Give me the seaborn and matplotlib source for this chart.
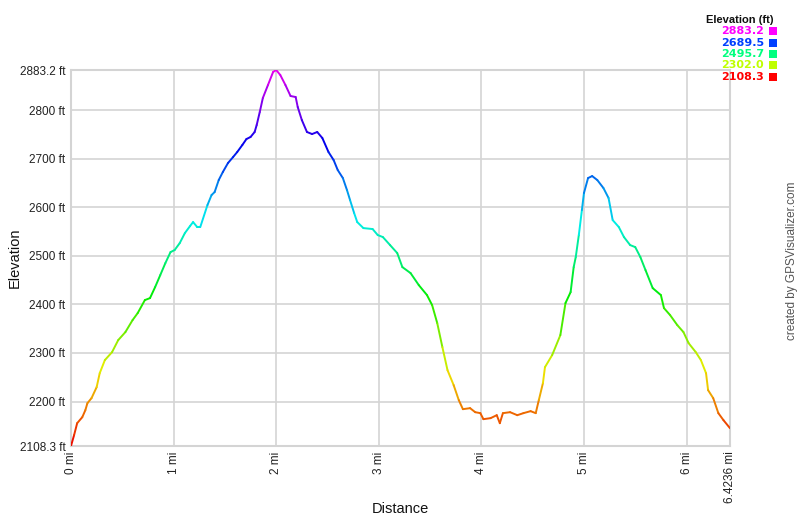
import numpy as np
import pandas as pd
import seaborn as sns
import matplotlib
matplotlib.use("Agg")
import matplotlib.pyplot as plt
from matplotlib.collections import LineCollection
from matplotlib.colors import hsv_to_rgb
from matplotlib.patches import Rectangle

# ===============================
# Datos leidos del perfil
# ===============================
distancia_mi = [
    0.00, 0.03, 0.06, 0.11, 0.14, 0.16, 0.20, 0.25, 0.28, 0.33,
    0.40, 0.46, 0.53, 0.60, 0.65, 0.72, 0.77, 0.82, 0.87, 0.92,
    0.97, 1.01, 1.06, 1.11, 1.16, 1.19, 1.23, 1.26, 1.33, 1.37,
    1.40, 1.44, 1.48, 1.53, 1.58, 1.62, 1.67, 1.71, 1.75, 1.79,
    1.81, 1.84, 1.87, 1.92, 1.97, 2.00, 2.04, 2.09, 2.14, 2.19,
    2.21, 2.25, 2.30, 2.35, 2.40, 2.45, 2.51, 2.56, 2.60, 2.65,
    2.69, 2.72, 2.76, 2.79, 2.85, 2.94, 2.99, 3.04, 3.11, 3.18,
    3.23, 3.31, 3.39, 3.47, 3.52, 3.57, 3.62, 3.67, 3.73, 3.78,
    3.82, 3.89, 3.94, 3.99, 4.02, 4.09, 4.15, 4.18, 4.21, 4.28,
    4.35, 4.41, 4.48, 4.53, 4.56, 4.60, 4.62, 4.69, 4.77, 4.82,
    4.87, 4.90, 4.92, 4.95, 4.98, 5.00, 5.04, 5.08, 5.13, 5.19,
    5.24, 5.28, 5.34, 5.39, 5.45, 5.50, 5.55, 5.60, 5.67, 5.75,
    5.78, 5.84, 5.91, 5.97, 6.02, 6.09, 6.14, 6.19, 6.21, 6.26,
    6.31, 6.36, 6.4236,
]
elevacion_ft = [
    2108.3, 2130.6, 2155.3, 2167.7, 2182.2, 2196.6, 2206.9, 2229.6, 2258.4, 2285.3,
    2301.7, 2326.5, 2343.0, 2367.7, 2382.2, 2409.0, 2413.1, 2435.8, 2460.5, 2485.3,
    2507.9, 2512.1, 2526.5, 2547.1, 2561.5, 2569.8, 2559.5, 2559.5, 2604.8, 2625.5,
    2631.6, 2656.4, 2672.9, 2691.4, 2703.8, 2714.1, 2728.6, 2740.9, 2745.1, 2755.4,
    2769.8, 2796.6, 2825.5, 2852.3, 2879.1, 2883.2, 2872.9, 2852.3, 2829.6, 2827.5,
    2806.9, 2780.1, 2755.4, 2751.2, 2755.4, 2743.0, 2714.1, 2697.6, 2677.0, 2660.5,
    2635.8, 2615.2, 2588.3, 2569.8, 2557.4, 2555.4, 2543.0, 2538.9, 2522.4, 2505.9,
    2477.0, 2464.6, 2439.9, 2419.3, 2398.7, 2361.5, 2312.1, 2264.6, 2233.7, 2202.8,
    2184.2, 2186.3, 2178.0, 2176.0, 2163.6, 2165.7, 2171.8, 2155.3, 2176.0, 2178.0,
    2171.8, 2176.0, 2180.1, 2176.0, 2202.8, 2237.8, 2270.8, 2295.6, 2336.8, 2402.8,
    2425.5, 2477.0, 2497.6, 2543.0, 2594.5, 2629.6, 2660.5, 2664.6, 2656.4, 2639.9,
    2619.3, 2573.9, 2559.5, 2538.9, 2522.4, 2518.2, 2497.6, 2470.8, 2433.7, 2419.3,
    2392.5, 2378.0, 2357.4, 2343.0, 2320.3, 2301.7, 2285.3, 2258.4, 2223.4, 2206.9,
    2176.0, 2161.5, 2145.0,
]

ticks_y = [2108.3, 2200, 2300, 2400, 2500, 2600, 2700, 2800, 2883.2]
ticks_x = [0, 1, 2, 3, 4, 5, 6, 6.4236]
leyenda_valores = [2883.2, 2689.5, 2495.7, 2302.0, 2108.3]

df = pd.DataFrame({"distancia": distancia_mi, "elevacion": elevacion_ft})
e_min, e_max = 2108.3, 2883.2


def color_elev(v, brillo=1.0):
    # rojo (bajo) -> magenta (alto), tono 0..300 grados
    frac = (v - e_min) / (e_max - e_min)
    return hsv_to_rgb([frac * 300 / 360, 1.0, brillo])


# ===============================
# Figura
# ===============================
sns.set_style("white")
plt.rcParams["font.family"] = ["Liberation Sans", "DejaVu Sans"]

fig = plt.figure(figsize=(8, 5.17), dpi=100)
ax = fig.add_axes([71 / 800, 1 - 446 / 517, 659 / 800, 376 / 517])

pts = df[["distancia", "elevacion"]].to_numpy()
segs = np.stack([pts[:-1], pts[1:]], axis=1)
medios = (pts[:-1, 1] + pts[1:, 1]) / 2
colores = [color_elev(v, 0.93) for v in medios]
lc = LineCollection(segs, colors=colores, linewidths=1.4, capstyle="round", zorder=3)
ax.add_collection(lc)

ax.set_xlim(0, 6.4236)
ax.set_ylim(e_min, e_max)
ax.set_xticks(ticks_x)
ax.set_xticklabels([f"{v:g} mi" for v in ticks_x], rotation=90, fontsize=8.5, color="#222222")
ax.set_yticks(ticks_y)
ax.set_yticklabels([f"{v:g} ft" for v in ticks_y], fontsize=8.5, color="#222222")
ax.tick_params(length=0, pad=4)
ax.grid(True, color="#d4d4d4", linewidth=1.2)
for s in ax.spines.values():
    s.set_color("#d4d4d4")
    s.set_linewidth(1.5)

ax.set_xlabel("Distance", fontsize=10.5, color="#111111")
ax.set_ylabel("Elevation", fontsize=10.5, color="#111111")
ax.xaxis.set_label_coords(0.5, -0.148)
ax.yaxis.set_label_coords(-0.075, 0.5)

# Leyenda de colores
fig.text(773 / 800, 1 - 20 / 517, "Elevation (ft)", ha="right", va="center",
         fontsize=8, fontweight="bold", color="#111111")
for i, v in enumerate(leyenda_valores):
    yc = 1 - (31.5 + i * 11.3) / 517
    c = color_elev(v)
    fig.text(764 / 800, yc, f"{v:.1f}", ha="right", va="center",
             fontsize=8, fontweight="bold", color=c, family="DejaVu Sans")
    fig.patches.append(Rectangle((769 / 800, yc - 4 / 517), 8 / 800, 8 / 517,
                                 transform=fig.transFigure, facecolor=c,
                                 edgecolor="none", figure=fig))

fig.text(792 / 800, 1 - 261 / 517, "created by GPSVisualizer.com", rotation=90,
         ha="center", va="center", fontsize=8.5, color="#555555")

fig.savefig("out.png", dpi=100)
